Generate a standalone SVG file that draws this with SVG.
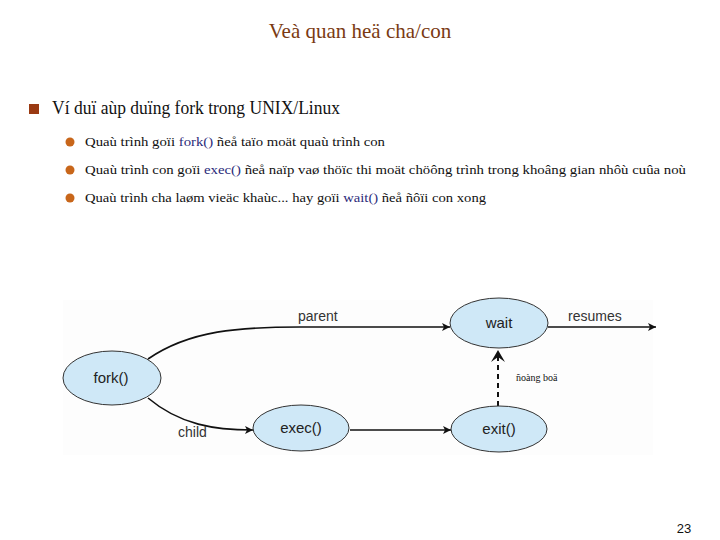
<svg xmlns="http://www.w3.org/2000/svg" width="720" height="540" viewBox="0 0 720 540">
<style>
.title{font-family:"Liberation Serif",serif;font-size:21px;fill:#7a3a12}
.h1{font-family:"Liberation Serif",serif;font-size:18px;fill:#111}
.h2{font-family:"Liberation Serif",serif;font-size:13.5px;fill:#111}
.code{fill:#2b2b7a}
.node ellipse{fill:#cfe8f7;stroke:#333;stroke-width:1}
.node text{font-family:"Liberation Sans",Arial,sans-serif;font-size:15px;fill:#222;text-anchor:middle}
.lbl{font-family:"Liberation Sans",Arial,sans-serif;font-size:14px;fill:#333}
.small{font-family:"Liberation Serif",serif;font-size:10px;fill:#111}
.edge{fill:none;stroke:#111;stroke-width:1.6}
.dash{fill:none;stroke:#111;stroke-width:2;stroke-dasharray:5,4}
</style>
<defs>
<marker id="ah" viewBox="0 0 10 10" refX="10" refY="5" markerWidth="8" markerHeight="8" markerUnits="userSpaceOnUse" orient="auto"><path d="M0,0 L10,5 L0,10 L2.5,5 z" fill="#111"/></marker>
</defs>
<rect width="720" height="540" fill="#fff"/>
<text class="title" x="360" y="38" text-anchor="middle">Veà quan heä cha/con</text>
<rect x="29" y="104" width="10" height="10" fill="#9a3a12"/>
<text class="h1" x="52" y="114" textLength="288" lengthAdjust="spacingAndGlyphs">Ví duï aùp duïng fork trong UNIX/Linux</text>
<circle cx="70" cy="142" r="4.5" fill="#c8661a"/>
<circle cx="70" cy="170" r="4.5" fill="#c8661a"/>
<circle cx="70" cy="198" r="4.5" fill="#c8661a"/>
<text class="h2" x="85" y="146" textLength="300" lengthAdjust="spacingAndGlyphs">Quaù trình goïi <tspan class="code">fork()</tspan> ñeå taïo moät quaù trình con</text>
<text class="h2" x="85" y="174" textLength="601" lengthAdjust="spacingAndGlyphs">Quaù trình con goïi <tspan class="code">exec()</tspan> ñeå naïp vaø thöïc thi moät chöông trình trong khoâng gian nhôù cuûa noù</text>
<text class="h2" x="85" y="202" textLength="401" lengthAdjust="spacingAndGlyphs">Quaù trình cha laøm vieäc khaùc... hay goïi <tspan class="code">wait()</tspan> ñeå ñôïi con xong</text>
<rect x="63" y="300" width="590" height="155" fill="#fdfdfd"/>
<g id="connectors">
<path class="edge" d="M148,359 C190,330 240,327 300,327 L450,327" marker-end="url(#ah)"/>
<path class="edge" d="M148,398 C180,425 215,430 253,430" marker-end="url(#ah)"/>
<path class="edge" d="M350,430 L451,430" marker-end="url(#ah)"/>
<path class="edge" d="M548,327 L656,327" marker-end="url(#ah)"/>
<path class="dash" d="M498,406 L498,352"/>
<path d="M491,362 L498,350 L505,362 L498,357 z" fill="#111"/>
<text class="lbl" x="298" y="321">parent</text>
<text class="lbl" x="178" y="437">child</text>
<text class="lbl" x="568" y="321">resumes</text>
<text class="small" x="516" y="381">ñoàng boä</text>
</g>
<g id="fork" class="node"><ellipse cx="112" cy="378" rx="49" ry="27"/><text x="111" y="383">fork()</text></g>
<g id="exec" class="node"><ellipse cx="301" cy="428" rx="48" ry="23"/><text x="301" y="433">exec()</text></g>
<g id="wait" class="node"><ellipse cx="499" cy="323" rx="49" ry="25"/><text x="499" y="328">wait</text></g>
<g id="exit" class="node"><ellipse cx="499" cy="429" rx="48" ry="23"/><text x="499" y="434">exit()</text></g>
<text x="684" y="533" text-anchor="middle" font-family="Liberation Sans,Arial,sans-serif" font-size="13" fill="#111">23</text>
</svg>
